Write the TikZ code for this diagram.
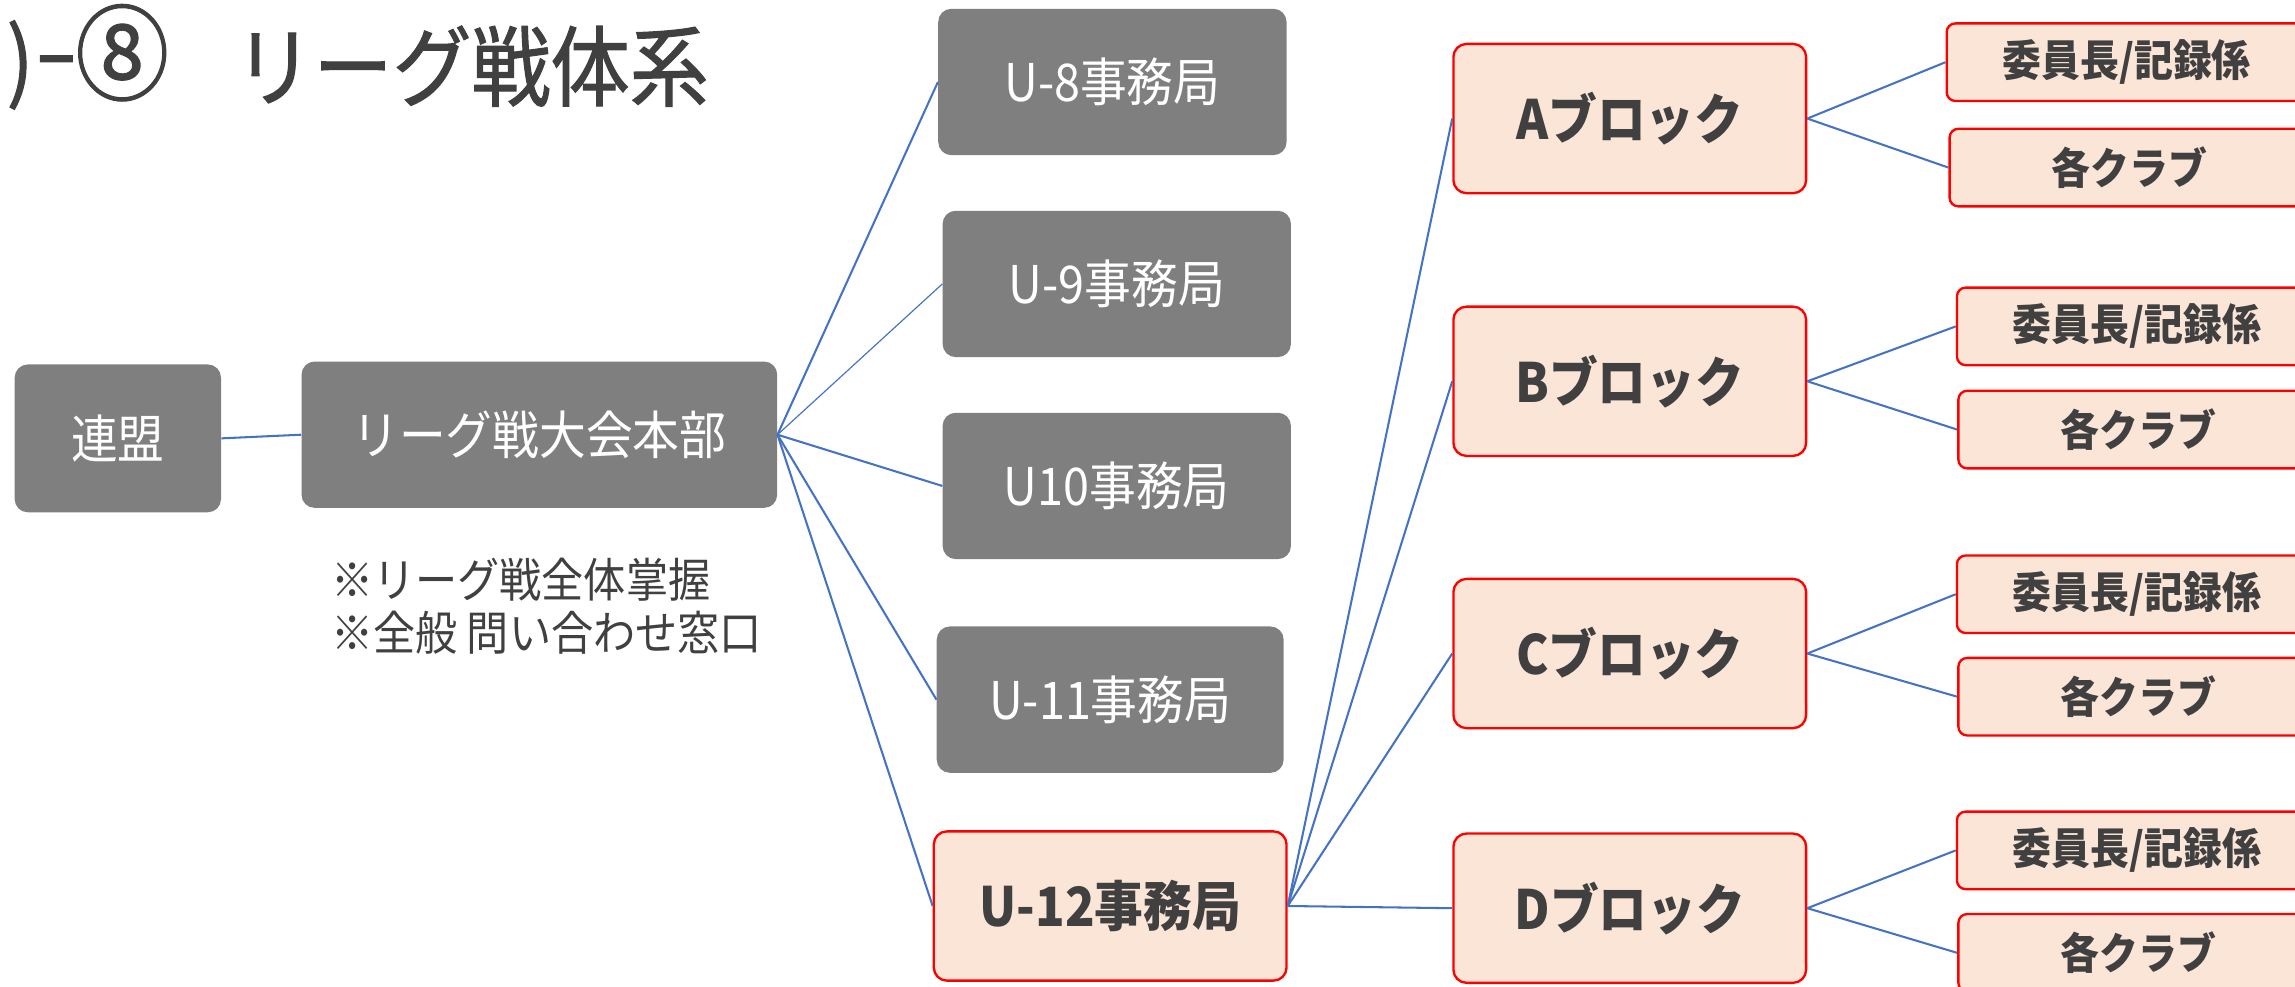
\documentclass[tikz,border=0pt]{standalone}
\usepackage{fontspec}
\setmainfont{Noto Sans CJK JP}
\newfontfamily\jpn{Noto Sans CJK JP}[FakeStretch=0.9]
\newfontfamily\jpt{Noto Sans CJK JP}[FakeStretch=0.9,FakeBold=1.2]
\definecolor{boxgray}{HTML}{7F7F7F}
\definecolor{textdark}{HTML}{404040}
\definecolor{peach}{HTML}{FBE5D6}
\definecolor{redline}{HTML}{FF0000}
\definecolor{linkblue}{HTML}{4472C4}
\begin{document}
\begin{tikzpicture}[x=1pt,y=-1pt,
  gbox/.style={rectangle,rounded corners=9pt,fill=boxgray,text=white,inner sep=0pt,font=\jpn\fontsize{35.5}{40}\selectfont},
  pbox/.style={rectangle,rounded corners=9pt,fill=peach,draw=redline,line width=1.6pt,text=textdark,inner sep=0pt,font=\jpn\bfseries\fontsize{37}{42}\selectfont},
  sbox/.style={pbox,rounded corners=6pt,minimum width=246pt,minimum height=53pt,font=\jpn\bfseries\fontsize{29.5}{34}\selectfont},
  ubox/.style={gbox,minimum width=238pt,minimum height=100pt},
  blk/.style={pbox,minimum width=241pt,minimum height=102pt},
  ttl/.style={inner sep=0pt,text=textdark,font=\jpt\fontsize{60}{66}\selectfont},
  link/.style={draw=linkblue,line width=1.4pt}]
\useasboundingbox (0,0) rectangle (1568,674);
\clip (0,0) rectangle (1568,674);
% title
\node[ttl,anchor=base east] (t0) at (23,63) {)};
\node[ttl,anchor=base] (t1) at (38.5,57) {\scalebox{1.55}[1]{-}};
\node[ttl,anchor=base,font=\jpt\fontsize{71}{76}\selectfont] (t2) at (83.5,63) {⑧};
\node[ttl,anchor=base west] (t3) at (160,68) {リーグ戦体系};
% left
\node[gbox,minimum width=141pt,minimum height=101pt] (renmei) at (80.5,299.5) {連盟};
\node[gbox,minimum width=325pt,minimum height=100pt] (hq) at (368.5,297) {リーグ戦大会本部};
\node[anchor=north west,inner sep=0pt,align=left,text=textdark,font=\jpn\fontsize{32}{36}\selectfont] (note) at (226,381) {※リーグ戦全体掌握\\※全般 問い合わせ窓口};
% U boxes
\node[ubox] (u8) at (760,56) {U-8事務局};
\node[ubox] (u9) at (763,194) {U-9事務局};
\node[ubox] (u10) at (763,332) {U10事務局};
\node[ubox,minimum width=237pt] (u11) at (758.5,478) {U-11事務局};
\node[blk] (u12) at (758.5,619) {U-12事務局};
% blocks
\node[blk] (ba) at (1113.5,81) {Aブロック};
\node[blk] (bb) at (1113.5,260.5) {Bブロック};
\node[blk] (bc) at (1113.5,446.5) {Cブロック};
\node[blk] (bd) at (1113.5,620.5) {Dブロック};
% small boxes
\node[sbox] (ia) at (1453,42.5) {委員長/記録係};
\node[sbox] (ca) at (1455,114.5) {各クラブ};
\node[sbox] (ib) at (1460,223) {委員長/記録係};
\node[sbox] (cb) at (1461,293.5) {各クラブ};
\node[sbox] (ic) at (1460,406) {委員長/記録係};
\node[sbox] (cc) at (1461,476) {各クラブ};
\node[sbox] (id) at (1460,581) {委員長/記録係};
\node[sbox] (cd) at (1461,651) {各クラブ};
% links
\draw[link] (renmei.east) -- (hq.west);
\draw[link] (hq.east) -- (u8.west);
\draw[link,line width=0.8pt] (hq.east) -- (u9.west);
\draw[link] (hq.east) -- (u10.west);
\draw[link] (hq.east) -- (u11.west);
\draw[link] (hq.east) -- (u12.west);
\foreach \b in {ba,bb,bc,bd} \draw[link] (u12.east) -- (\b.west);
\draw[link] (ba.east) -- (ia.west);
\draw[link] (ba.east) -- (ca.west);
\draw[link] (bb.east) -- (ib.west);
\draw[link] (bb.east) -- (cb.west);
\draw[link] (bc.east) -- (ic.west);
\draw[link] (bc.east) -- (cc.west);
\draw[link] (bd.east) -- (id.west);
\draw[link] (bd.east) -- (cd.west);
\end{tikzpicture}
\end{document}
